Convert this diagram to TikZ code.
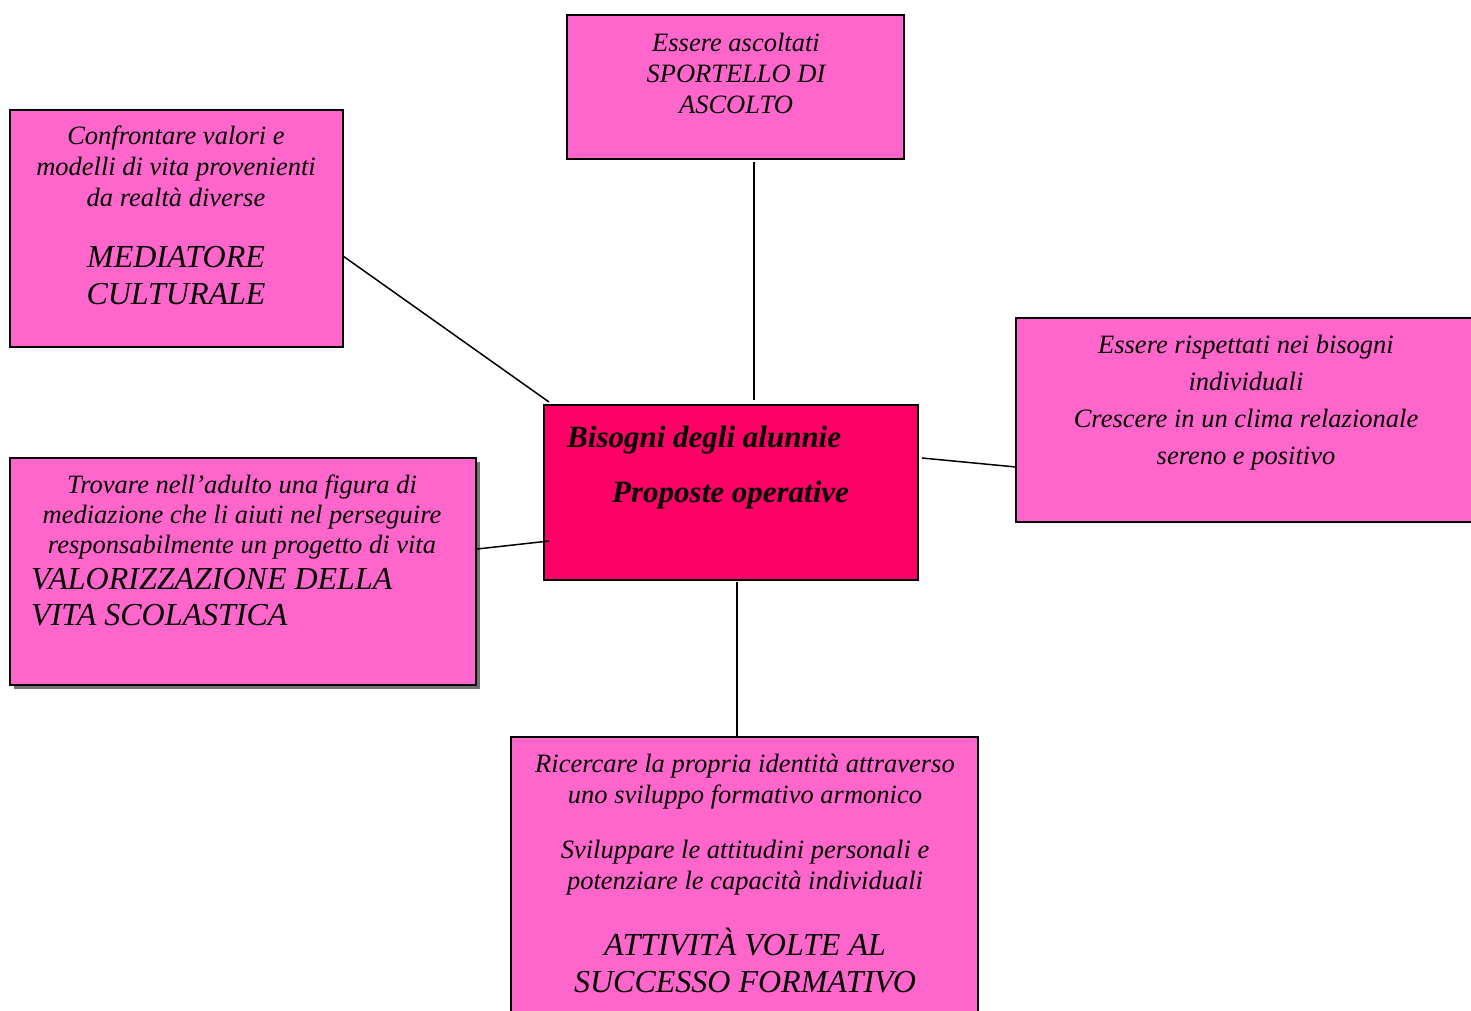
\documentclass[tikz,border=0pt]{standalone}
\usepackage{fontspec}
\setmainfont{Liberation Serif}
\usetikzlibrary{shadows}
\definecolor{boxpink}{RGB}{255,102,204}
\definecolor{corepink}{RGB}{255,0,102}
\begin{document}
\begin{tikzpicture}[x=1pt,y=-1pt,
  box/.style={draw=black, line width=2pt, fill=boxpink, rectangle, inner sep=0pt},
  core/.style={box, fill=corepink},
  ln/.style={anchor=base, inner sep=0pt, font=\fontsize{26.5}{31}\selectfont\itshape},
  big/.style={anchor=base, inner sep=0pt, font=\fontsize{32}{37}\selectfont\itshape},
  bigl/.style={big, anchor=base west},
  title/.style={anchor=base west, inner sep=0pt, font=\fontsize{31}{36}\selectfont\bfseries\itshape},
  link/.style={draw=black, line width=1.5pt}]
\useasboundingbox (0,0) rectangle (1471,1010);
\clip (0,0) rectangle (1471,1010);

% boxes
\node[box, minimum width=337, minimum height=144] (ascolto) at (735.5,87) {};
\node[box, minimum width=333, minimum height=237] (mediatore) at (176.5,228.5) {};
\node[box, minimum width=460, minimum height=204] (rispetto) at (1246,420) {};
\node[box, minimum width=466, minimum height=227,
      drop shadow={shadow xshift=4pt, shadow yshift=-4pt, fill=black!55, opacity=1}] (vita) at (243,571.5) {};
\node[box, minimum width=467, minimum height=330] (successo) at (744.5,902) {};
\node[core, minimum width=374, minimum height=175] (bisogni) at (731,492.5) {};

% connector end points
\coordinate (a1) at (754,162);  \coordinate (a2) at (754,400);
\coordinate (m1) at (343,256);  \coordinate (m2) at (549,402);
\coordinate (r1) at (922,458);  \coordinate (r2) at (1016,467);
\coordinate (v1) at (477,549);  \coordinate (v2) at (549,541);
\coordinate (s1) at (737,582);  \coordinate (s2) at (737,737);

\draw[link] (a1) -- (a2);
\draw[link] (m1) -- (m2);
\draw[link] (r1) -- (r2);
\draw[link] (v1) -- (v2);
\draw[link] (s1) -- (s2);

% centre
\node[title] (b1) at (567,447) {Bisogni degli alunnie};
\node[title] (b2) at (612,502) {Proposte operative};

% top
\node[ln] (t1) at (736,51) {Essere ascoltati};
\node[ln] (t2) at (736,82) {SPORTELLO DI};
\node[ln] (t3) at (736,113) {ASCOLTO};

% mediatore culturale
\node[ln] (c1) at (176,144) {Confrontare valori e};
\node[ln] (c2) at (176,175) {modelli di vita provenienti};
\node[ln] (c3) at (176,206) {da realtà diverse};
\node[big] (c4) at (176,267) {MEDIATORE};
\node[big] (c5) at (176,304) {CULTURALE};

% right
\node[ln] (e1) at (1246,353) {Essere rispettati nei bisogni};
\node[ln] (e2) at (1246,390) {individuali};
\node[ln] (e3) at (1246,427) {Crescere in un clima relazionale};
\node[ln] (e4) at (1246,464) {sereno e positivo};

% left
\node[ln] (l1) at (242,493) {Trovare nell’adulto una figura di};
\node[ln] (l2) at (242,523) {mediazione che li aiuti nel perseguire};
\node[ln] (l3) at (242,553) {responsabilmente un progetto di vita};
\node[bigl] (l4) at (31,589) {VALORIZZAZIONE DELLA};
\node[bigl] (l5) at (31,625) {VITA SCOLASTICA};

% bottom
\node[ln] (s3) at (745,772) {Ricercare la propria identità attraverso};
\node[ln] (s4) at (745,803) {uno sviluppo formativo armonico};
\node[ln] (s5) at (745,858) {Sviluppare le attitudini personali e};
\node[ln] (s6) at (745,889) {potenziare le capacità individuali};
\node[big] (s7) at (745,955) {ATTIVITÀ VOLTE AL};
\node[big] (s8) at (745,992) {SUCCESSO FORMATIVO};
\end{tikzpicture}
\end{document}
